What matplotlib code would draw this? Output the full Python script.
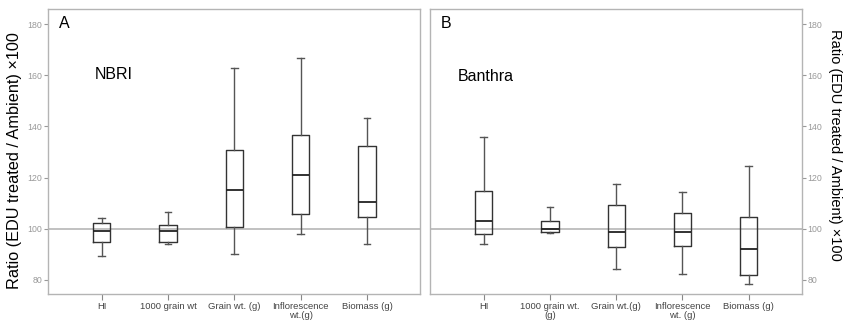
import matplotlib.pyplot as plt

plt.rcParams['font.family'] = ['Liberation Sans', 'DejaVu Sans']

cats_a = ['HI', '1000 grain wt', 'Grain wt. (g)', 'Inflorescence\nwt.(g)', 'Biomass (g)']
cats_b = ['HI', '1000 grain wt.\n(g)', 'Grain wt.(g)', 'Inflorescence\nwt. (g)', 'Biomass (g)']

# whisker low, q1, median, q3, whisker high
nbri_low = [89.4, 93.9, 90.2, 98.0, 94.2]
nbri_q1 = [94.7, 95.0, 100.7, 105.9, 104.6]
nbri_med = [99.1, 99.3, 115.0, 121.0, 110.3]
nbri_q3 = [102.4, 101.5, 130.9, 136.8, 132.2]
nbri_high = [104.1, 106.7, 162.9, 166.6, 143.4]

ban_low = [93.9, 98.5, 84.4, 82.3, 78.3]
ban_q1 = [97.8, 98.8, 93.0, 93.2, 82.0]
ban_med = [103.0, 99.8, 98.6, 98.6, 92.0]
ban_q3 = [114.6, 102.9, 109.3, 106.3, 104.7]
ban_high = [135.7, 108.6, 117.7, 114.5, 124.5]

yticks = [80, 100, 120, 140, 160, 180]
ylabel = 'Ratio (EDU treated / Ambient) \u00d7100'


def make_stats(low, q1, med, q3, high):
    return [dict(whislo=a, q1=b, med=c, q3=d, whishi=e, fliers=[])
            for a, b, c, d, e in zip(low, q1, med, q3, high)]


fig = plt.figure(figsize=(8.44, 3.23), dpi=100)
ax1 = fig.add_axes([0.0569, 0.0898, 0.4408, 0.882])
ax2 = fig.add_axes([0.5095, 0.0898, 0.4404, 0.882])

frame = '#b4b4b4'
panels = [
    (ax1, make_stats(nbri_low, nbri_q1, nbri_med, nbri_q3, nbri_high), cats_a, 'A', 'NBRI'),
    (ax2, make_stats(ban_low, ban_q1, ban_med, ban_q3, ban_high), cats_b, 'B', 'Banthra'),
]

for ax, stats, cats, letter, site in panels:
    ax.axhline(100, color='#b0b0b0', lw=1.1, zorder=1)
    pos = list(range(1, len(stats) + 1))
    ax.bxp(stats, positions=pos, widths=0.26, capwidths=0.1, showfliers=False,
           boxprops=dict(color='#333333', lw=1.0),
           whiskerprops=dict(color='#555555', lw=1.0),
           capprops=dict(color='#555555', lw=1.0),
           medianprops=dict(color='#222222', lw=1.3))
    ax.set_xlim(0.19, 5.8)
    ax.set_ylim(74.5, 185.9)
    ax.set_xticks(pos)
    ax.set_xticklabels(cats, fontsize=6.8, color='#444444', linespacing=0.95)
    ax.set_yticks(yticks)
    ax.tick_params(axis='y', labelsize=6.3, colors='#999999', length=3, pad=1)
    ax.tick_params(axis='x', colors='#888888', labelcolor='#444444', length=4, pad=2)
    for s in ax.spines.values():
        s.set_color(frame)
        s.set_linewidth(1.0)
    ax.text(0.03, 0.95, letter, transform=ax.transAxes, fontsize=11.5, va='center')

ax1.text(0.125, 0.77, 'NBRI', transform=ax1.transAxes, fontsize=11.5, va='center')
ax2.text(0.075, 0.765, 'Banthra', transform=ax2.transAxes, fontsize=11.5, va='center')

ax1.set_ylabel(ylabel, fontsize=11.7, va='center')
ax1.yaxis.set_label_coords(-0.089, 0.468)
ax2.yaxis.tick_right()
ax2.yaxis.set_label_position('right')
ax2.set_ylabel(ylabel, fontsize=10.5, rotation=-90, va='center')
ax2.yaxis.set_label_coords(1.09, 0.523)

fig.savefig('out.png', dpi=100)
